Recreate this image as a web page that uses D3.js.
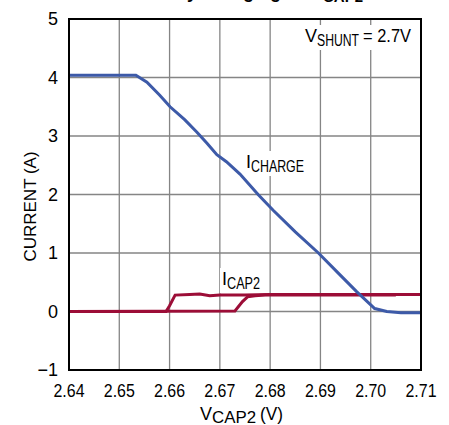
<!DOCTYPE html>
<html>
<head>
<meta charset="utf-8">
<script src="https://cdn.jsdelivr.net/npm/d3@7"></script>
<style>
  body { margin: 0; background: #fff; }
  text { font-family: "Liberation Sans", Arial, sans-serif; }
</style>
</head>
<body>
<div class="chart"></div>
<script>
// I_CHARGE (blue) vs V_CAP2
const chargeV = [2.640, 2.6533, 2.6555, 2.6580, 2.6601, 2.6630, 2.6654, 2.6674, 2.6694, 2.6713, 2.6740, 2.6776, 2.6806, 2.6850, 2.6896, 2.6935, 2.6972, 2.7008, 2.7032, 2.7060, 2.7100];
const chargeI = [4.04, 4.04, 3.92, 3.70, 3.50, 3.28, 3.07, 2.88, 2.68, 2.56, 2.35, 2.00, 1.73, 1.36, 1.00, 0.66, 0.34, 0.05, 0.00, -0.02, -0.02];

// I_CAP2 (red), two sweeps
const capAV = [2.640, 2.6593, 2.6600, 2.6611, 2.6640, 2.6660, 2.6680, 2.6700, 2.6750, 2.6800, 2.6900, 2.7000, 2.7100];
const capAI = [0.00, 0.00, 0.10, 0.28, 0.29, 0.30, 0.27, 0.28, 0.28, 0.29, 0.29, 0.29, 0.29];
const capBV = [2.640, 2.6730, 2.6745, 2.6755, 2.6770, 2.6790, 2.6900, 2.7050];
const capBI = [0.00, 0.01, 0.17, 0.25, 0.27, 0.28, 0.28, 0.28];

const xTicks = [2.64, 2.65, 2.66, 2.67, 2.68, 2.69, 2.70, 2.71];
const yTicks = [-1, 0, 1, 2, 3, 4, 5];

const margin = {top: 19, right: 28, bottom: 55, left: 69},
      width = 449 - margin.left - margin.right,
      height = 425 - margin.top - margin.bottom;

const root = d3.select(".chart").append("svg")
    .attr("width", 449)
    .attr("height", 425);

const svg = root.append("g")
    .attr("transform", "translate(" + margin.left + "," + margin.top + ")");

const x = d3.scaleLinear().domain([2.64, 2.71]).range([0, width]);
const y = d3.scaleLinear().domain([-1, 5]).range([height, 0]);

// grid
svg.append("g")
    .selectAll("line")
    .data(xTicks.slice(1, -1))
    .join("line")
    .attr("x1", d => x(d)).attr("x2", d => x(d))
    .attr("y1", 0).attr("y2", height)
    .attr("stroke", "#858585")
    .attr("stroke-width", 1.3);

svg.append("g")
    .selectAll("line")
    .data(yTicks.slice(1, -1))
    .join("line")
    .attr("x1", 0).attr("x2", width)
    .attr("y1", d => y(d)).attr("y2", d => y(d))
    .attr("stroke", "#858585")
    .attr("stroke-width", 1.3);

// tick labels (condensed look)
svg.append("g")
    .selectAll("text")
    .data(xTicks)
    .join("text")
    .attr("x", d => x(d))
    .attr("y", height + 27)
    .attr("text-anchor", "middle")
    .attr("font-size", 18)
    .attr("textLength", 31)
    .attr("lengthAdjust", "spacingAndGlyphs")
    .text(d => d.toFixed(2));

svg.append("g")
    .selectAll("text")
    .data(yTicks)
    .join("text")
    .attr("x", -11)
    .attr("y", d => y(d) + 6)
    .attr("text-anchor", "end")
    .attr("font-size", 18)
    .text(d => d < 0 ? "\u2212" + Math.abs(d) : d);

// label helper: main letter, subscript, optional rest, each squeezed to the reference width
function label(g, px, py, main, sub, subLen, rest, restLen) {
    const t = g.append("text")
        .attr("x", px).attr("y", py)
        .attr("font-size", 18);
    t.append("tspan").text(main);
    t.append("tspan").attr("dy", 4).attr("font-size", 16)
        .attr("textLength", subLen).attr("lengthAdjust", "spacingAndGlyphs")
        .text(sub);
    if (rest) t.append("tspan").attr("dy", -4).attr("dx", 4)
        .attr("textLength", restLen).attr("lengthAdjust", "spacingAndGlyphs")
        .text(rest);
    return t;
}

const lines = svg.append("g");
const labels = svg.append("g");

const vs = label(labels, 305 - margin.left, 42 - margin.top, "V", "SHUNT", 42, "= 2.7V", 48);
const ic = label(labels, 246 - margin.left, 168 - margin.top, "I", "CHARGE", 53);
const ia = label(labels, 222 - margin.left, 285 - margin.top, "I", "CAP2", 33);

[vs, ic, ia].forEach(t => {
    const b = t.node().getBBox();
    labels.insert("rect", "text")
        .attr("x", b.x - 2).attr("y", b.y - 1)
        .attr("width", b.width + 4).attr("height", b.height + 2)
        .attr("fill", "#fff");
});

// curves
const line = d3.line()
    .x(d => x(d[0]))
    .y(d => y(d[1]));

lines.append("path")
    .datum(capBV.map((v, i) => [v, capBI[i]]))
    .attr("d", line)
    .attr("fill", "none")
    .attr("stroke", "#9c0d37")
    .attr("stroke-width", 3);

lines.append("path")
    .datum(capAV.map((v, i) => [v, capAI[i]]))
    .attr("d", line)
    .attr("fill", "none")
    .attr("stroke", "#9c0d37")
    .attr("stroke-width", 3);

lines.append("path")
    .datum(chargeV.map((v, i) => [v, chargeI[i]]))
    .attr("d", line)
    .attr("fill", "none")
    .attr("stroke", "#3d5aa8")
    .attr("stroke-width", 3);

// frame
svg.append("rect")
    .attr("width", width).attr("height", height)
    .attr("fill", "none")
    .attr("stroke", "#000")
    .attr("stroke-width", 2);

// axis titles
const xt = root.append("text")
    .attr("x", 200)
    .attr("y", 420)
    .attr("font-size", 18);
xt.append("tspan").text("V");
xt.append("tspan").attr("dy", 3).attr("font-size", 16)
    .attr("textLength", 44).attr("lengthAdjust", "spacingAndGlyphs").text("CAP2");
xt.append("tspan").attr("dy", -3).attr("dx", 4)
    .attr("textLength", 23).attr("lengthAdjust", "spacingAndGlyphs").text("(V)");

root.append("text")
    .attr("transform", "translate(36," + (margin.top + height / 2 + 12) + ") rotate(-90)")
    .attr("text-anchor", "middle")
    .attr("font-size", 17)
    .text("CURRENT (A)");

// title, mostly cut off at the top edge
const tt = root.append("text")
    .attr("x", 363)
    .attr("y", -2)
    .attr("text-anchor", "end")
    .attr("font-weight", "bold")
    .attr("font-size", 18);
tt.append("tspan").text("Battery Charging vs V");
tt.append("tspan").attr("dy", 4).attr("font-size", 15).text("CAP2");
</script>
</body>
</html>
